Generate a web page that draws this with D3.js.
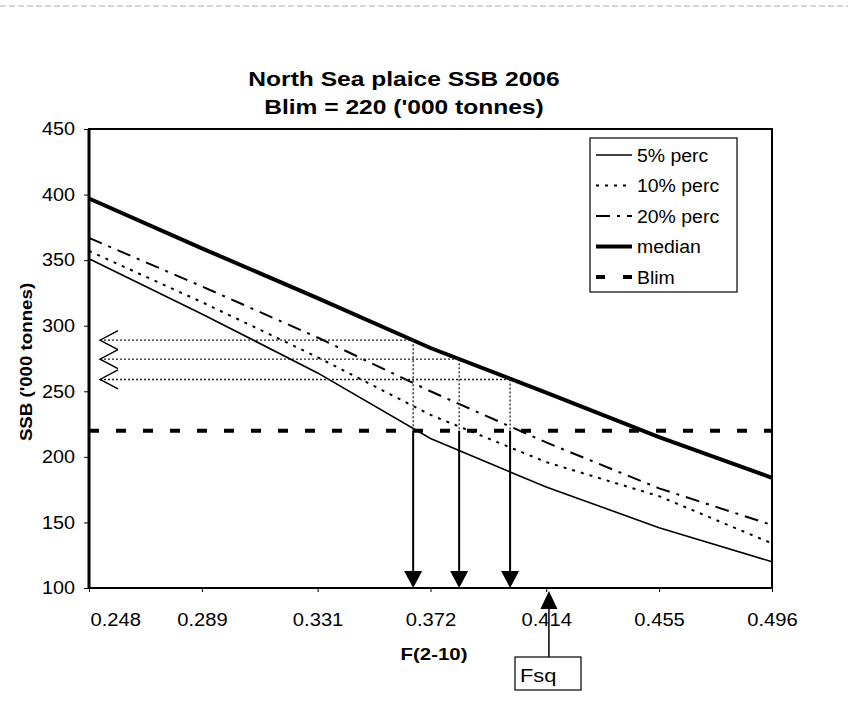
<!DOCTYPE html>
<html><head><meta charset="utf-8">
<script src="https://cdn.jsdelivr.net/npm/d3@7"></script>
<style>
body{margin:0;background:#fff}
svg{display:block}
text{font-family:Arial,"Liberation Sans",sans-serif;fill:#000}
</style>
</head><body>
<svg id="c" width="848" height="708"></svg>
<script>
// ---- data ----
const fValues = [0.248, 0.289, 0.331, 0.372, 0.414, 0.455, 0.496];
const xTickLabels = ["0.248", "0.289", "0.331", "0.372", "0.414", "0.455", "0.496"];
const yTicks = [100, 150, 200, 250, 300, 350, 400, 450];
const perc5 = [351, 309, 264, 214, 177, 146, 120];
const perc10 = [357, 318, 276, 232, 196, 170, 134];
const perc20 = [367, 330, 291, 250, 211, 176, 148];
const median = [397, 359, 321, 283, 249, 215, 184];
const blim = 220;
const arrowF = [0.3657, 0.3824, 0.4009];
const arrowSSB = [289, 274.5, 259];
const fsq = 0.415;
const seriesNames = ["5% perc", "10% perc", "20% perc", "median", "Blim"];
const titleLines = ["North Sea plaice SSB 2006", "Blim = 220 ('000 tonnes)"];

// ---- layout ----
const L = 89, R = 772, T = 129, B = 588;
const svg = d3.select("#c");
const x = d3.scaleLinear().domain([fValues[0], fValues[fValues.length - 1]]).range([L, R]);
const y = d3.scaleLinear().domain([100, 450]).range([B, T]);

function stretch(sel, k) {
  sel.each(function () {
    const w = this.getComputedTextLength();
    d3.select(this).attr("textLength", w * k).attr("lengthAdjust", "spacingAndGlyphs");
  });
}

// faint scan line at top
svg.append("line").attr("x1", 0).attr("x2", 848).attr("y1", 6).attr("y2", 6)
  .attr("stroke", "#aaa").attr("stroke-width", 1).attr("stroke-dasharray", "6,3");

// title
const tt = svg.append("g").selectAll("text").data(titleLines).join("text")
  .attr("x", 404).attr("y", (d, i) => 86 + i * 28)
  .attr("text-anchor", "middle").attr("font-weight", "bold").attr("font-size", 21)
  .text(d => d);
stretch(tt, 1.17);

// axes
const yAxis = svg.append("g").attr("transform", `translate(${L},0)`)
  .call(d3.axisLeft(y).tickValues(yTicks).tickSize(5).tickPadding(9));
yAxis.select(".domain").remove();
yAxis.selectAll("text").attr("font-size", 18).attr("font-family", "Arial, 'Liberation Sans', sans-serif");
yAxis.selectAll("line").attr("stroke", "#000");
stretch(yAxis.selectAll("text"), 1.1);

const xAxis = svg.append("g").attr("transform", `translate(0,${B})`)
  .call(d3.axisBottom(x).tickValues(fValues).tickFormat((d, i) => xTickLabels[i]).tickSize(4).tickPadding(21));
xAxis.select(".domain").remove();
xAxis.selectAll("text").attr("font-size", 18).attr("font-family", "Arial, 'Liberation Sans', sans-serif");
xAxis.selectAll("line").attr("stroke", "#000");
xAxis.selectAll("text").filter((d, i) => i === 0).attr("text-anchor", "start").attr("x", 1);
stretch(xAxis.selectAll("text"), 1.12);

// frame
svg.append("rect").attr("x", L).attr("y", T).attr("width", R - L).attr("height", B - T)
  .attr("fill", "none").attr("stroke", "#000").attr("stroke-width", 2);
svg.append("line").attr("x1", L).attr("x2", L).attr("y1", T).attr("y2", B)
  .attr("stroke", "#000").attr("stroke-width", 3);

// axis titles
const xt = svg.append("text").attr("x", 434).attr("y", 660).attr("text-anchor", "middle")
  .attr("font-weight", "bold").attr("font-size", 17).text("F(2-10)");
stretch(xt, 1.2);
const yt = svg.append("text").attr("transform", "translate(32,362) rotate(-90)").attr("text-anchor", "middle")
  .attr("font-weight", "bold").attr("font-size", 17).text("SSB ('000 tonnes)");
stretch(yt, 1.1);

// series
const styles = [
  {data: perc5, w: 1.6, dash: null},
  {data: perc10, w: 2, dash: "3,6"},
  {data: perc20, w: 2, dash: "14,7,3,7"},
  {data: median, w: 4, dash: null}
];
const line = d3.line().x((d, i) => x(fValues[i])).y(d => y(d));
styles.forEach(s => {
  svg.append("path").datum(s.data).attr("d", line).attr("fill", "none")
    .attr("stroke", "#000").attr("stroke-width", s.w)
    .attr("stroke-dasharray", s.dash);
});
// Blim
svg.append("line").attr("x1", x(fValues[0])).attr("x2", x(fValues[fValues.length - 1]))
  .attr("y1", y(blim)).attr("y2", y(blim))
  .attr("stroke", "#000").attr("stroke-width", 4).attr("stroke-dasharray", "10,17");

// horizontal dotted arrows with open arrowheads at left
const hx0 = 100;
const g = svg.append("g");
arrowF.forEach((f, i) => {
  const yy = y(arrowSSB[i]), xx = x(f);
  g.append("line").attr("x1", hx0).attr("x2", xx).attr("y1", yy).attr("y2", yy)
    .attr("stroke", "#222").attr("stroke-width", 1.3).attr("stroke-dasharray", "2,2");
  g.append("polyline").attr("points", `${hx0 + 18},${yy - 9.5} ${hx0},${yy} ${hx0 + 18},${yy + 9.5}`)
    .attr("fill", "none").attr("stroke", "#000").attr("stroke-width", 1.4);
  g.append("line").attr("x1", xx).attr("x2", xx).attr("y1", yy).attr("y2", y(blim))
    .attr("stroke", "#222").attr("stroke-width", 1.3).attr("stroke-dasharray", "2,2");
  g.append("line").attr("x1", xx).attr("x2", xx).attr("y1", y(blim)).attr("y2", B - 15)
    .attr("stroke", "#000").attr("stroke-width", 2);
  g.append("path").attr("d", `M${xx - 9},${B - 17} L${xx + 9},${B - 17} L${xx},${B} Z`).attr("fill", "#000");
});

// Fsq arrow and box
const fx = x(fsq);
g.append("path").attr("d", `M${fx},${B + 3} L${fx - 8.5},${B + 21} L${fx + 8.5},${B + 21} Z`).attr("fill", "#000");
g.append("line").attr("x1", fx).attr("x2", fx).attr("y1", B + 20).attr("y2", 657)
  .attr("stroke", "#000").attr("stroke-width", 1.5);
g.append("rect").attr("x", 515).attr("y", 657).attr("width", 66).attr("height", 33)
  .attr("fill", "#fff").attr("stroke", "#000").attr("stroke-width", 1.2);
const ft = g.append("text").attr("x", 520).attr("y", 682).attr("font-size", 19).text("Fsq");
stretch(ft, 1.15);

// legend
const legX = 590, legY = 138, legW = 147, legH = 154;
const lg = svg.append("g");
lg.append("rect").attr("x", legX).attr("y", legY).attr("width", legW).attr("height", legH)
  .attr("fill", "#fff").attr("stroke", "#000").attr("stroke-width", 1.2);
const legStyles = [
  {w: 1.6, dash: null}, {w: 2, dash: "3,6"}, {w: 2, dash: "14,7,3,7"}, {w: 4, dash: null}, {w: 4, dash: "9,18"}
];
seriesNames.forEach((name, i) => {
  const yy = 155 + i * 30.5;
  lg.append("line").attr("x1", legX + 6).attr("x2", 632).attr("y1", yy).attr("y2", yy)
    .attr("stroke", "#000").attr("stroke-width", legStyles[i].w)
    .attr("stroke-dasharray", legStyles[i].dash);
  const t = lg.append("text").attr("x", 637).attr("y", yy + 6.5).attr("font-size", 18).text(name);
  stretch(t, 1.08);
});
</script>
</body></html>
